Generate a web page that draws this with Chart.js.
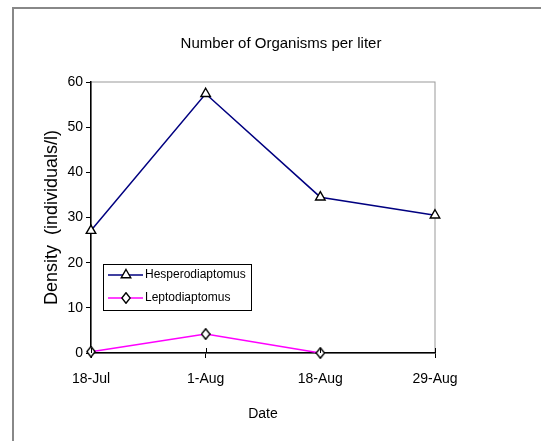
<!DOCTYPE html>
<html>
<head>
<meta charset="utf-8">
<title>Number of Organisms per liter</title>
<script src="https://cdn.jsdelivr.net/npm/chart.js@4"></script>
<style>
  html, body { margin: 0; padding: 0; background: #fff; }
  canvas { display: block; }
</style>
</head>
<body>
<canvas id="densityChart" width="541" height="441"></canvas>
<script>
// data
var dates = ['18-Jul', '1-Aug', '18-Aug', '29-Aug'];
var hesperodiaptomus = [27.1, 57.4, 34.5, 30.5];
var leptodiaptomus = [0.3, 4.2, 0, null];
var yTicks = [0, 10, 20, 30, 40, 50, 60];

var FONT = '"Liberation Sans", Arial, sans-serif';

// tall thin diamond marker like the Excel one
function makeDiamond() {
    var c = document.createElement('canvas');
    c.width = 10; c.height = 12;
    var g = c.getContext('2d');
    g.beginPath();
    g.moveTo(5, 0.7);
    g.lineTo(9.2, 6);
    g.lineTo(5, 11.3);
    g.lineTo(0.8, 6);
    g.closePath();
    g.fillStyle = '#fff';
    g.fill();
    g.lineWidth = 1.4;
    g.strokeStyle = '#000';
    g.stroke();
    return c;
}
var diamond = makeDiamond();

// outer frame + grey plot box, drawn under the axes
var framePlugin = {
    id: 'frame',
    beforeDraw: function(chart) {
        var ctx = chart.ctx, a = chart.chartArea;
        ctx.save();
        ctx.strokeStyle = '#888';
        ctx.lineWidth = 2;
        ctx.beginPath();
        ctx.moveTo(13, 441);
        ctx.lineTo(13, 8);
        ctx.lineTo(541, 8);
        ctx.stroke();
        ctx.lineWidth = 1;
        ctx.strokeStyle = '#999';
        ctx.strokeRect(a.left, a.top, a.right - a.left, a.bottom - a.top);
        ctx.restore();
    },
    // x tick marks cross the axis in the original: add the upper half
    afterDraw: function(chart) {
        var ctx = chart.ctx, xs = chart.scales.x, a = chart.chartArea;
        ctx.save();
        ctx.strokeStyle = '#000';
        ctx.lineWidth = 1;
        xs.ticks.forEach(function(t, i) {
            var px = Math.round(xs.getPixelForTick(i)) + 0.5;
            ctx.beginPath();
            ctx.moveTo(px, a.bottom);
            ctx.lineTo(px, a.bottom - 5);
            ctx.stroke();
        });
        ctx.restore();
    }
};

// legend box sitting inside the plot, line + marker samples
var boxLegend = {
    id: 'boxLegend',
    afterDatasetsDraw: function(chart) {
        var ctx = chart.ctx;
        var bx = 103.5, by = 264.5, bw = 148, bh = 46;
        ctx.save();
        ctx.fillStyle = '#fff';
        ctx.fillRect(bx, by, bw, bh);
        ctx.strokeStyle = '#000';
        ctx.lineWidth = 1;
        ctx.strokeRect(bx, by, bw, bh);
        chart.data.datasets.forEach(function(ds, i) {
            var y = 275 + i * 23;
            ctx.strokeStyle = ds.borderColor;
            ctx.lineWidth = ds.borderWidth;
            ctx.beginPath();
            ctx.moveTo(108, y);
            ctx.lineTo(143, y);
            ctx.stroke();
            ctx.fillStyle = ds.pointBackgroundColor;
            ctx.strokeStyle = ds.pointBorderColor;
            ctx.lineWidth = ds.pointBorderWidth;
            Chart.helpers.drawPoint(ctx, {
                pointStyle: ds.pointStyle,
                radius: ds.pointRadius,
                rotation: 0,
                borderWidth: ds.pointBorderWidth
            }, 126, y);
            ctx.fillStyle = '#000';
            ctx.font = '12px ' + FONT;
            ctx.textAlign = 'left';
            ctx.textBaseline = 'middle';
            ctx.fillText(ds.label, 145, y);
        });
        ctx.restore();
    }
};

var ctx = document.getElementById('densityChart').getContext('2d');
var densityChart = new Chart(ctx, {
    type: 'line',
    data: {
        labels: dates,
        datasets: [{
            label: 'Hesperodiaptomus',
            data: hesperodiaptomus,
            borderColor: '#000080',
            borderWidth: 1.5,
            pointStyle: 'triangle',
            pointRadius: 5.5,
            pointBackgroundColor: '#fff',
            pointBorderColor: '#000',
            pointBorderWidth: 1.4,
            tension: 0,
            clip: false
        }, {
            label: 'Leptodiaptomus',
            data: leptodiaptomus,
            borderColor: '#FF00FF',
            borderWidth: 1.5,
            pointStyle: diamond,
            pointRadius: 5,
            pointBackgroundColor: '#fff',
            pointBorderColor: '#000',
            pointBorderWidth: 1.2,
            tension: 0,
            spanGaps: false,
            clip: false
        }]
    },
    options: {
        responsive: false,
        animation: false,
        layout: { padding: { left: 21, right: 0, top: 0, bottom: 0 } },
        plugins: {
            legend: { display: false },
            tooltip: { enabled: false },
            title: {
                display: true,
                text: 'Number of Organisms per liter',
                color: '#000',
                font: { family: FONT, size: 15, weight: 'normal' },
                padding: { top: 35, bottom: 29 }
            }
        },
        scales: {
            x: {
                type: 'category',
                offset: false,
                grid: { drawOnChartArea: false, drawTicks: true, tickLength: 5, color: '#000' },
                border: { display: true, color: '#000', width: 1.5 },
                ticks: { color: '#000', padding: 13, maxRotation: 0, font: { family: FONT, size: 14 } },
                title: {
                    display: true,
                    text: 'Date',
                    color: '#000',
                    font: { family: FONT, size: 14 },
                    padding: { top: 0, bottom: 18 }
                },
                afterFit: function(scale) { scale.height = 88; }
            },
            y: {
                min: 0,
                max: 60,
                afterBuildTicks: function(scale) {
                    scale.ticks = yTicks.map(function(v) { return { value: v }; });
                },
                grid: { drawOnChartArea: false, drawTicks: true, tickLength: 5, color: '#000' },
                border: { display: true, color: '#000', width: 1.5 },
                ticks: { color: '#000', padding: 3, font: { family: FONT, size: 14 } },
                title: {
                    display: true,
                    text: 'Density  (individuals/l)',
                    color: '#000',
                    font: { family: FONT, size: 18 },
                    padding: { top: 20, bottom: 0 }
                },
                afterFit: function(scale) { scale.width = 70; }
            },
            // empty right axis only to hold the space right of the plot
            yRight: {
                position: 'right',
                min: 0,
                max: 60,
                grid: { display: false },
                border: { display: false },
                ticks: { display: false },
                afterFit: function(scale) { scale.width = 106; }
            }
        }
    },
    plugins: [framePlugin, boxLegend]
});
</script>
</body>
</html>
